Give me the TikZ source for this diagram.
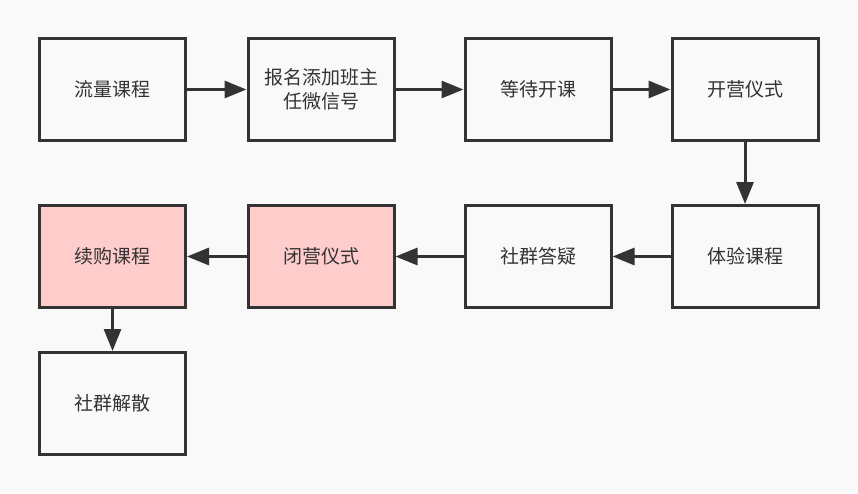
\documentclass[tikz,border=0pt]{standalone}
\usepackage{fontspec}
\setmainfont{Noto Sans CJK SC}
\usetikzlibrary{arrows.meta}
\definecolor{bg}{HTML}{F9F9F9}
\definecolor{ln}{HTML}{333333}
\definecolor{pk}{HTML}{FFCCCC}
\tikzset{
    step box/.style={draw=ln,line width=3pt,fill=bg,minimum width=146pt,minimum height=102pt,
        text=ln,font=\fontsize{19}{24}\selectfont,align=center,inner sep=0pt},
    hot box/.style={step box,fill=pk},
    flow/.style={-{Triangle[length=22pt,width=17pt]},draw=ln,line width=3pt}
}
\begin{document}
\begin{tikzpicture}[x=1pt,y=-1pt]
			\fill[bg] (0,0) rectangle (858,493);
			\useasboundingbox (0,0) rectangle (858,493);
			% first row
			\node[step box] (liuliang) at (112.5,89.5) {流量课程};
			\node[step box] (baoming) at (321,89.5) {报名添加班主\\任微信号};
			\node[step box] (dengdai) at (538,89.5) {等待开课};
			\node[step box] (kaiying) at (745,89.5) {开营仪式};
			% second row
			\node[hot box] (xugou) at (112.5,256.5) {续购课程};
			\node[hot box] (biying) at (321,256.5) {闭营仪式};
			\node[step box] (dayi) at (538,256.5) {社群答疑};
			\node[step box] (tiyan) at (745,256.5) {体验课程};
			% third row
			\node[step box] (jiesan) at (112.5,403.5) {社群解散};
			% arrows
			\draw[flow] (liuliang) -- (baoming);
			\draw[flow] (baoming) -- (dengdai);
			\draw[flow] (dengdai) -- (kaiying);
			\draw[flow] (kaiying) -- (tiyan);
			\draw[flow] (tiyan) -- (dayi);
			\draw[flow] (dayi) -- (biying);
			\draw[flow] (biying) -- (xugou);
			\draw[flow] (xugou) -- (jiesan);
		\end{tikzpicture}
\end{document}
